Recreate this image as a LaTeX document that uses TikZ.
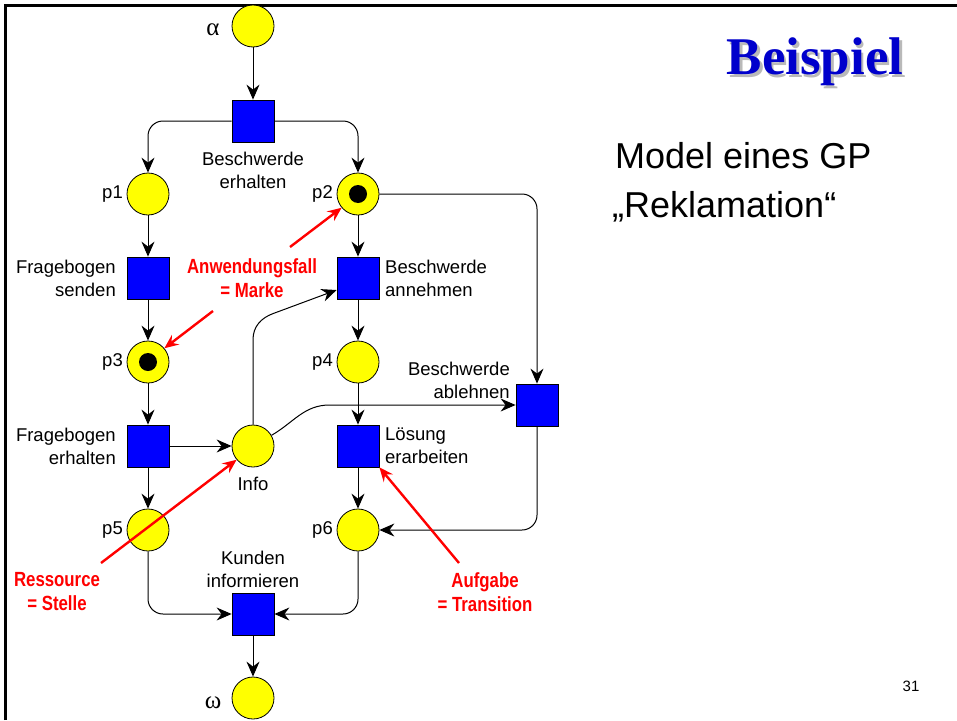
\documentclass[tikz,border=0pt]{standalone}
\usepackage{fontspec}
\setmainfont{Liberation Sans}
\newfontfamily\seriffont{Liberation Serif}
\newfontfamily\narrowfont[FakeStretch=0.82]{Liberation Sans}
\usetikzlibrary{arrows.meta}
\definecolor{placeyellow}{RGB}{255,255,0}
\definecolor{transblue}{RGB}{0,0,255}
\definecolor{titleblue}{RGB}{0,0,204}
\definecolor{notered}{RGB}{255,0,0}

\begin{document}
\begin{tikzpicture}[x=1pt, y=1pt, node distance=84pt]
    \tikzstyle{place} = [circle, draw, fill=placeyellow, minimum size=42pt, inner sep=0pt, line width=0.8pt]
    \tikzstyle{transition} = [rectangle, draw, fill=transblue, minimum size=42pt, inner sep=0pt, line width=0.8pt]
    \tikzstyle{token} = [circle, fill=black, minimum size=18pt, inner sep=0pt]
    \tikzstyle{netlabel} = [inner sep=0pt, font=\fontsize{18.5}{23}\selectfont]
    \tikzstyle{note} = [inner sep=0pt, align=center, text=notered, font=\narrowfont\bfseries\fontsize{20.5}{24}\selectfont]
    \tikzstyle{flow} = [line width=1pt, -{Stealth[length=15pt, width=13pt, inset=5pt]}, rounded corners=15pt]
    \tikzstyle{pointer} = [line width=2.4pt, notered, -{Stealth[length=14pt, width=12pt, inset=5pt]}]

    % slide frame and texts
    \useasboundingbox (0,0) rectangle (957,-720);
    \draw [line width=2.7pt] (5.3,-720) -- (5.3,-5.3) -- (957,-5.3);
    \node (titleshadow) [inner sep=0pt, text=gray!55, font=\seriffont\bfseries\fontsize{53}{60}\selectfont] at (817.5,-64.5) {Beispiel};
    \node (title) [inner sep=0pt, text=titleblue, font=\seriffont\bfseries\fontsize{53}{60}\selectfont] at (815,-62) {Beispiel};
    \node (model) [inner sep=0pt, anchor=base west, font=\fontsize{36}{44}\selectfont] at (615,-168) {Model eines GP};
    \node (gp) [inner sep=0pt, anchor=base west, font=\fontsize{36}{44}\selectfont] at (612,-217) {„Reklamation“};
    \node (pagenr) [inner sep=0pt, font=\fontsize{15}{18}\selectfont] at (911,-686) {31};

    % places and transitions
    \node (alpha) [place] at (253,-26) {};
    \node (receive) [transition, below of=alpha, yshift=-11pt] {};
    \node (p1) [place, below of=receive, xshift=-105pt, yshift=11pt] {};
    \node (p2) [place, node distance=210pt, right of=p1] {};
    \node (send) [transition, below of=p1] {};
    \node (p3) [place, below of=send] {};
    \node (back) [transition, below of=p3] {};
    \node (p5) [place, below of=back] {};
    \node (info) [place, node distance=105pt, right of=back] {};
    \node (accept) [transition, below of=p2] {};
    \node (p4) [place, below of=accept] {};
    \node (solve) [transition, below of=p4] {};
    \node (p6) [place, below of=solve] {};
    \node (reject) [transition, node distance=179pt, right of=p4, yshift=-43pt] {};
    \node (inform) [transition, below of=p5, xshift=105pt] {};
    \node (omega) [place, below of=inform] {};
    \node (tok2) [token] at (p2) {};
    \node (tok3) [token] at (p3) {};

    % labels
    \node (alphatext) [netlabel, font=\seriffont\fontsize{25}{28}\selectfont, node distance=40pt, left of=alpha, yshift=-4pt] {α};
    \node (omegatext) [netlabel, font=\seriffont\fontsize{25}{28}\selectfont, node distance=40pt, left of=omega, yshift=-5pt] {ω};
    \node (receivetext) [netlabel, align=center, node distance=49pt, below of=receive] {Beschwerde\\erhalten};
    \node (p1text) [netlabel, node distance=25pt, left of=p1, anchor=east] {p1};
    \node (p2text) [netlabel, node distance=25pt, left of=p2, anchor=east] {p2};
    \node (p3text) [netlabel, node distance=25pt, left of=p3, anchor=east] {p3};
    \node (p4text) [netlabel, node distance=25pt, left of=p4, anchor=east] {p4};
    \node (p5text) [netlabel, node distance=25pt, left of=p5, anchor=east] {p5};
    \node (p6text) [netlabel, node distance=25pt, left of=p6, anchor=east] {p6};
    \node (sendtext) [netlabel, align=right, node distance=32pt, left of=send, anchor=east] {Fragebogen\\senden};
    \node (backtext) [netlabel, align=right, node distance=32pt, left of=back, anchor=east] {Fragebogen\\erhalten};
    \node (accepttext) [netlabel, align=left, node distance=27pt, right of=accept, anchor=west] {Beschwerde\\annehmen};
    \node (solvetext) [netlabel, align=left, node distance=27pt, right of=solve, anchor=west] {Lösung\\erarbeiten};
    \node (rejecttext) [netlabel, align=right, node distance=27pt, left of=reject, anchor=east, yshift=25pt] {Beschwerde\\ablehnen};
    \node (infotext) [netlabel, node distance=38pt, below of=info] {Info};
    \node (informtext) [netlabel, align=center, node distance=45pt, above of=inform] {Kunden\\informieren};

    % arcs
    \draw [flow] (alpha) -- (receive);
    \draw [flow] (receive.west) -| (p1.north);
    \draw [flow] (receive.east) -| (p2.north);
    \draw [flow] (p1) -- (send);
    \draw [flow] (send) -- (p3);
    \draw [flow] (p3) -- (back);
    \draw [flow] (back) -- (p5);
    \draw [flow] (back) -- (info);
    \draw [flow, sharp corners] (info.north) -- ++(0,85) to[out=90, in=200] ++(20,26) -- ([yshift=-12pt]accept.west);
    \draw [flow, sharp corners] (info.30) to[out=30, in=180] ([xshift=-186pt]reject.west) -- (reject.west);
    \draw [flow] (p2) -- (accept);
    \draw [flow] (p2.east) -| (reject.north);
    \draw [flow] (accept) -- (p4);
    \draw [flow] (p4) -- (solve);
    \draw [flow] (solve) -- (p6);
    \draw [flow] (reject.south) |- (p6.east);
    \draw [flow] (p5.south) |- (inform.west);
    \draw [flow] (p6.south) |- (inform.east);
    \draw [flow] (inform) -- (omega);

    % notes
    \node (marke) [note, node distance=106pt, left of=accept] {Anwendungsfall\\= Marke};
    \node (stelle) [note, node distance=62pt, below of=p5, xshift=-91pt] {Ressource\\= Stelle};
    \node (aufgabe) [note, node distance=62pt, below of=p6, xshift=127pt] {Aufgabe\\= Transition};
    \coordinate (markeA) at (290,-247);
    \coordinate (markeB) at (213,-311);
    \coordinate (stelleA) at (101,-563);
    \coordinate (aufgabeA) at (459,-563);
    \draw [pointer] (markeA) -- (p2.220);
    \draw [pointer] (markeB) -- (p3.40);
    \draw [pointer] (stelleA) -- (info.220);
    \draw [pointer] (aufgabeA) -- (solve.south east);
\end{tikzpicture}
\end{document}
